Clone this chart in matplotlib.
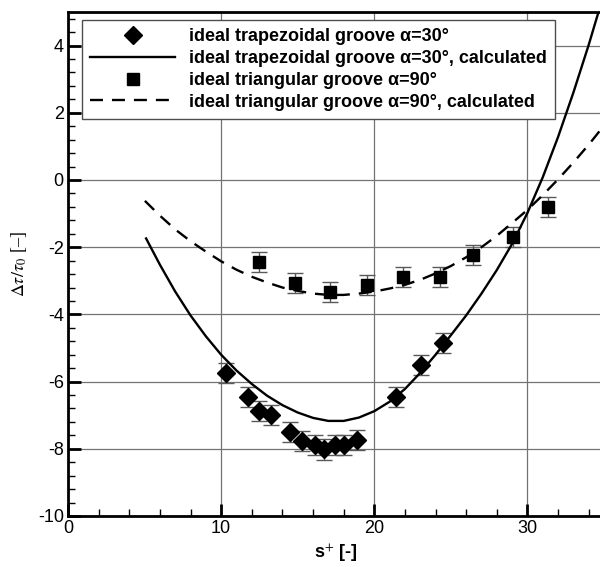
import matplotlib
matplotlib.use("Agg")
import matplotlib.pyplot as plt
from matplotlib.ticker import MultipleLocator

# measured: ideal trapezoidal groove, alpha = 30 deg
trap_s = [10.3, 11.75, 12.5, 13.25, 14.5, 15.27, 16.1, 16.7, 17.45, 18.0, 18.87, 21.4, 23.05, 24.5]
trap_dt = [-5.75, -6.47, -6.88, -7.0, -7.5, -7.76, -7.89, -8.02, -7.89, -7.89, -7.74, -6.47, -5.5, -4.86]
trap_err = 0.3

# measured: ideal triangular groove, alpha = 90 deg
tri_s = [12.46, 14.85, 17.1, 19.5, 21.9, 24.27, 26.44, 29.05, 31.33]
tri_dt = [-2.43, -3.06, -3.33, -3.12, -2.88, -2.88, -2.23, -1.69, -0.81]
tri_err = 0.3

# calculated curves
trap_calc_s = [5.1, 6, 7, 8, 9, 10, 11, 12, 13, 14, 15, 16, 17, 18, 19, 20,
               21, 22, 23, 24, 25, 26, 27, 28, 29, 30, 31, 32, 33, 34, 35]
trap_calc_dt = [-1.74, -2.52, -3.32, -4.03, -4.65, -5.2, -5.67, -6.07, -6.42, -6.7, -6.92,
                -7.08, -7.17, -7.17, -7.07, -6.88, -6.6, -6.22, -5.74, -5.2, -4.62, -4.03,
                -3.38, -2.68, -1.9, -0.98, 0.08, 1.28, 2.6, 4.02, 5.55]

tri_calc_s = [5.02, 6, 7, 8, 9, 10, 11, 12, 13, 14, 15, 16, 17, 18, 19, 20,
              21, 22, 23, 24, 25, 26, 27, 28, 29, 30, 31, 32, 33, 34, 35]
tri_calc_dt = [-0.62, -1.06, -1.47, -1.82, -2.13, -2.42, -2.67, -2.88, -3.05, -3.2, -3.3,
               -3.38, -3.42, -3.42, -3.38, -3.32, -3.23, -3.12, -2.97, -2.78, -2.56, -2.3,
               -2.0, -1.66, -1.28, -0.89, -0.45, 0.02, 0.52, 1.05, 1.62]

plt.rcParams['font.family'] = ['Liberation Sans', 'DejaVu Sans']
plt.rcParams['mathtext.fontset'] = 'stix'
plt.rcParams['axes.unicode_minus'] = False

fig = plt.figure(figsize=(6.0, 5.67), dpi=100)
ax = fig.add_axes([68 / 600, 1 - 516 / 567, 536 / 600, 504 / 567])

ax.grid(True, which='major', color='0.45', lw=0.9)
ax.set_axisbelow(True)

ax.errorbar(trap_s, trap_dt, yerr=trap_err, fmt='none', ecolor='0.35', elinewidth=1.0,
            capsize=5.5, capthick=1.0, zorder=3)
ax.errorbar(tri_s, tri_dt, yerr=tri_err, fmt='none', ecolor='0.35', elinewidth=1.0,
            capsize=5.5, capthick=1.0, zorder=3)

ax.plot(trap_s, trap_dt, 'D', color='black', ms=8.9, ls='none', zorder=4,
        label='ideal trapezoidal groove α=30°')
ax.plot(trap_calc_s, trap_calc_dt, '-', color='black', lw=1.7, zorder=5,
        label='ideal trapezoidal groove α=30°, calculated')
ax.plot(tri_s, tri_dt, 's', color='black', ms=9, ls='none', zorder=4,
        label='ideal triangular groove α=90°')
ax.plot(tri_calc_s, tri_calc_dt, '--', color='black', lw=1.7, dashes=(5.5, 3.8), zorder=5,
        label='ideal triangular groove α=90°, calculated')

ax.set_xlim(0, 35)
ax.set_ylim(-10, 5)
ax.xaxis.set_major_locator(MultipleLocator(10))
ax.xaxis.set_minor_locator(MultipleLocator(2))
ax.yaxis.set_major_locator(MultipleLocator(2))
ax.yaxis.set_minor_locator(MultipleLocator(0.4))
ax.tick_params(which='major', direction='in', length=9, width=2.0, labelsize=13,
               top=False, right=False, pad=3)
ax.tick_params(which='minor', direction='in', length=5, width=1.0, top=False, right=False)

for side in ['left', 'bottom', 'top']:
    ax.spines[side].set_linewidth(2.0)
ax.spines['right'].set_visible(False)

ax.set_xlabel('s$^{+}$ [-]', fontsize=13, fontweight='bold', labelpad=4)
ax.set_ylabel(r'$\Delta\tau/\tau_0$ [–]', fontsize=13, family=['Liberation Serif'], labelpad=6)

leg = ax.legend(loc='upper left', bbox_to_anchor=(14 / 536, 1 - 8 / 504), frameon=True,
                fancybox=False, edgecolor='0.3', framealpha=1.0, borderaxespad=0,
                handlelength=4.7, handletextpad=0.75, labelspacing=0.27, borderpad=0.45,
                prop={'weight': 'bold', 'size': 13})
leg.get_frame().set_linewidth(1.0)

fig.savefig('out.png', dpi=100)
